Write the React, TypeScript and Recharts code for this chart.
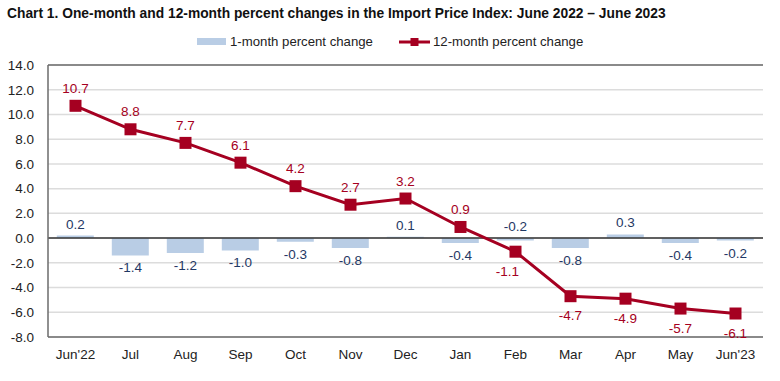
import React from "react";
import {
  ComposedChart,
  Bar,
  Line,
  XAxis,
  YAxis,
  CartesianGrid,
  ReferenceLine,
  LabelList,
} from "recharts";

const months = ["Jun'22", "Jul", "Aug", "Sep", "Oct", "Nov", "Dec", "Jan", "Feb", "Mar", "Apr", "May", "Jun'23"];
const oneMonth = [0.2, -1.4, -1.2, -1.0, -0.3, -0.8, 0.1, -0.4, -0.2, -0.8, 0.3, -0.4, -0.2];
const twelveMonth = [10.7, 8.8, 7.7, 6.1, 4.2, 2.7, 3.2, 0.9, -1.1, -4.7, -4.9, -5.7, -6.1];
const yTicks = [-8, -6, -4, -2, 0, 2, 4, 6, 8, 10, 12, 14];

const RED = "#a50021";
const BLUE = "#b9cde5";
const NAVY = "#1f3864";
const FRAME = "#6b6b6b";
const FONT = "'Liberation Sans', Arial, sans-serif";

// label placement tweaks
const barLabelAbove = new Set(["Feb"]);
const lineLabelBelowFrom = 8; // Feb onwards

const data = months.map((m, i) => ({
  month: m,
  oneMonth: oneMonth[i],
  twelveMonth: twelveMonth[i],
}));

const SquareDot = (props: any) => {
  const { cx, cy } = props;
  if (cx == null || cy == null) return null;
  return <rect x={cx - 6} y={cy - 6} width={12} height={12} fill={RED} />;
};

const BarLabel = (props: any) => {
  const { x, y, width, height, value, index } = props;
  const m = months[index];
  const above = value >= 0 || barLabelAbove.has(m);
  const cx = x + width / 2;
  const top = Math.min(y, y + height);
  const bottom = Math.max(y, y + height);
  const ty = above ? top - 7 : bottom + 17;
  return (
    <text x={cx} y={ty} textAnchor="middle" fill={NAVY} fontSize={13.5} fontFamily={FONT}>
      {value.toFixed(1)}
    </text>
  );
};

const LineLabel = (props: any) => {
  const { x, y, value, index } = props;
  const below = index >= lineLabelBelowFrom;
  const dx = months[index] === "Feb" ? -8 : 0;
  const ty = below ? y + 24 : y - 13;
  return (
    <text x={x + dx} y={ty} textAnchor="middle" fill={RED} fontSize={13.5} fontFamily={FONT}>
      {value.toFixed(1)}
    </text>
  );
};

const Legend = () => (
  <div
    style={{
      position: "absolute",
      left: 197,
      top: 34,
      display: "flex",
      alignItems: "center",
      fontFamily: FONT,
      fontSize: 13.2,
      color: "#222",
    }}
  >
    <span style={{ display: "inline-block", width: 29, height: 7, background: BLUE, marginRight: 4 }} />
    <span>1-month percent change</span>
    <svg width={31} height={12} style={{ marginLeft: 26, marginRight: 3 }}>
      <line x1={0} y1={6} x2={31} y2={6} stroke={RED} strokeWidth={3} />
      <rect x={11.5} y={2} width={8} height={8} fill={RED} />
    </svg>
    <span>12-month percent change</span>
  </div>
);

export default function App() {
  return (
    <div style={{ position: "absolute", left: 0, top: 0, width: 780, height: 381, background: "#fff" }}>
      <div
        style={{
          position: "absolute",
          left: 7,
          top: 6,
          fontFamily: FONT,
          fontWeight: "bold",
          fontSize: 13.8,
          color: "#111",
          whiteSpace: "nowrap",
        }}
      >
        Chart 1. One-month and 12-month percent changes in the Import Price Index: June 2022 – June 2023
      </div>
      <Legend />
      <ComposedChart
        width={780}
        height={381}
        data={data}
        margin={{ top: 65, right: 17, bottom: 14, left: 8 }}
        barCategoryGap="16%"
      >
        <CartesianGrid vertical={false} stroke="#dcdcdc" strokeWidth={1.5} />
        <XAxis
          dataKey="month"
          axisLine={{ stroke: FRAME, strokeWidth: 1.5 }}
          tickLine={false}
          tick={{ fill: "#222", fontSize: 13.5, fontFamily: FONT }}
          height={30}
          tickMargin={6}
          interval={0}
        />
        <YAxis
          domain={[-8, 14]}
          ticks={yTicks}
          allowDataOverflow
          width={40}
          axisLine={{ stroke: FRAME, strokeWidth: 1.5 }}
          tickLine={false}
          tick={{ fill: "#222", fontSize: 13.5, fontFamily: FONT }}
          tickFormatter={(v: number) => v.toFixed(1)}
          tickMargin={8}
        />
        <YAxis
          yAxisId="frame"
          orientation="right"
          domain={[-8, 14]}
          width={0}
          tick={false}
          tickLine={false}
          axisLine={{ stroke: FRAME, strokeWidth: 1.5 }}
        />
        <ReferenceLine y={14} stroke={FRAME} strokeWidth={1.5} />
        <ReferenceLine y={0} stroke="#333" strokeWidth={1.5} />
        <Bar dataKey="oneMonth" fill={BLUE} isAnimationActive={false}>
          <LabelList dataKey="oneMonth" content={<BarLabel />} />
        </Bar>
        <Line
          dataKey="twelveMonth"
          stroke={RED}
          strokeWidth={3}
          dot={<SquareDot />}
          activeDot={false}
          isAnimationActive={false}
        >
          <LabelList dataKey="twelveMonth" content={<LineLabel />} />
        </Line>
      </ComposedChart>
    </div>
  );
}
